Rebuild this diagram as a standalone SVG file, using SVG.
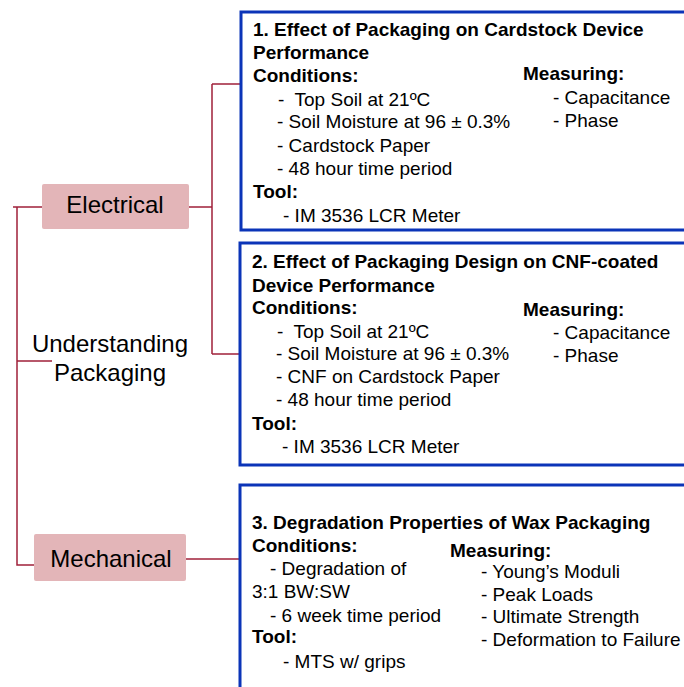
<svg xmlns="http://www.w3.org/2000/svg" width="684" height="687" viewBox="0 0 684 687">
<style>
text{font-family:"Liberation Sans",Arial,sans-serif;fill:#000}
.t{font-size:19px}
.b{font-size:19px;font-weight:bold}
.big{font-size:24px;text-anchor:middle}
.pink{fill:#e3b5b8}
.card{fill:#fff;stroke:#0b34b8;stroke-width:3}
.con{fill:none;stroke:#a0203a;stroke-width:1.5}
</style>
<rect width="684" height="687" fill="#fff"/>
<g id="connectors">
<path class="con" d="M13 207 H53 M17 207 V565 H38 M17 361 H52"/>
<path class="con" d="M189 207 H212 M212 84 V354 M212 84 H241 M212 354 H240"/>
<path class="con" d="M186 559 H240"/>
</g>
<g id="root"><text class="big" x="110" y="352">Understanding</text><text class="big" x="110" y="381">Packaging</text></g>
<g id="electrical"><rect class="pink" x="42" y="184" width="147" height="45" rx="2"/><text class="big" x="115" y="213">Electrical</text></g>
<g id="mechanical"><rect class="pink" x="34" y="534" width="152" height="47" rx="2"/><text class="big" x="111" y="567">Mechanical</text></g>
<g id="box1">
<rect class="card" x="241" y="12" width="460" height="218"/>
<text class="b" x="253" y="36">1. Effect of Packaging on Cardstock Device</text>
<text class="b" x="253" y="59">Performance</text>
<text class="b" x="253" y="82">Conditions:</text>
<text class="t" x="278" y="106">-&#160; Top Soil at 21ºC</text>
<text class="t" x="277" y="128">- Soil Moisture at 96 ± 0.3%</text>
<text class="t" x="277" y="152">- Cardstock Paper</text>
<text class="t" x="277" y="175">- 48 hour time period</text>
<text class="b" x="253" y="198">Tool:</text>
<text class="t" x="283" y="222">- IM 3536 LCR Meter</text>
<text class="b" x="523" y="80">Measuring:</text>
<text class="t" x="553" y="104">- Capacitance</text>
<text class="t" x="553" y="127">- Phase</text>
</g>
<g id="box2">
<rect class="card" x="240" y="243" width="460" height="222"/>
<text class="b" x="252" y="268">2. Effect of Packaging Design on CNF-coated</text>
<text class="b" x="252" y="292">Device Performance</text>
<text class="b" x="252" y="314">Conditions:</text>
<text class="t" x="277" y="338">-&#160; Top Soil at 21ºC</text>
<text class="t" x="276" y="360">- Soil Moisture at 96 ± 0.3%</text>
<text class="t" x="276" y="383">- CNF on Cardstock Paper</text>
<text class="t" x="276" y="406">- 48 hour time period</text>
<text class="b" x="252" y="430">Tool:</text>
<text class="t" x="282" y="453">- IM 3536 LCR Meter</text>
<text class="b" x="523" y="316">Measuring:</text>
<text class="t" x="553" y="339">- Capacitance</text>
<text class="t" x="553" y="362">- Phase</text>
</g>
<g id="box3">
<rect class="card" x="240" y="485" width="460" height="220"/>
<text class="b" x="252" y="529">3. Degradation Properties of Wax Packaging</text>
<text class="b" x="252" y="552">Conditions:</text>
<text class="t" x="270" y="575">- Degradation of</text>
<text class="t" x="252" y="598">3:1 BW:SW</text>
<text class="t" x="270" y="622">- 6 week time period</text>
<text class="b" x="252" y="643">Tool:</text>
<text class="t" x="283" y="668">- MTS w/ grips</text>
<text class="b" x="450" y="557">Measuring:</text>
<text class="t" x="481" y="578">- Young’s Moduli</text>
<text class="t" x="481" y="601">- Peak Loads</text>
<text class="t" x="481" y="623">- Ultimate Strength</text>
<text class="t" x="481" y="646">- Deformation to Failure</text>
</g>
</svg>
